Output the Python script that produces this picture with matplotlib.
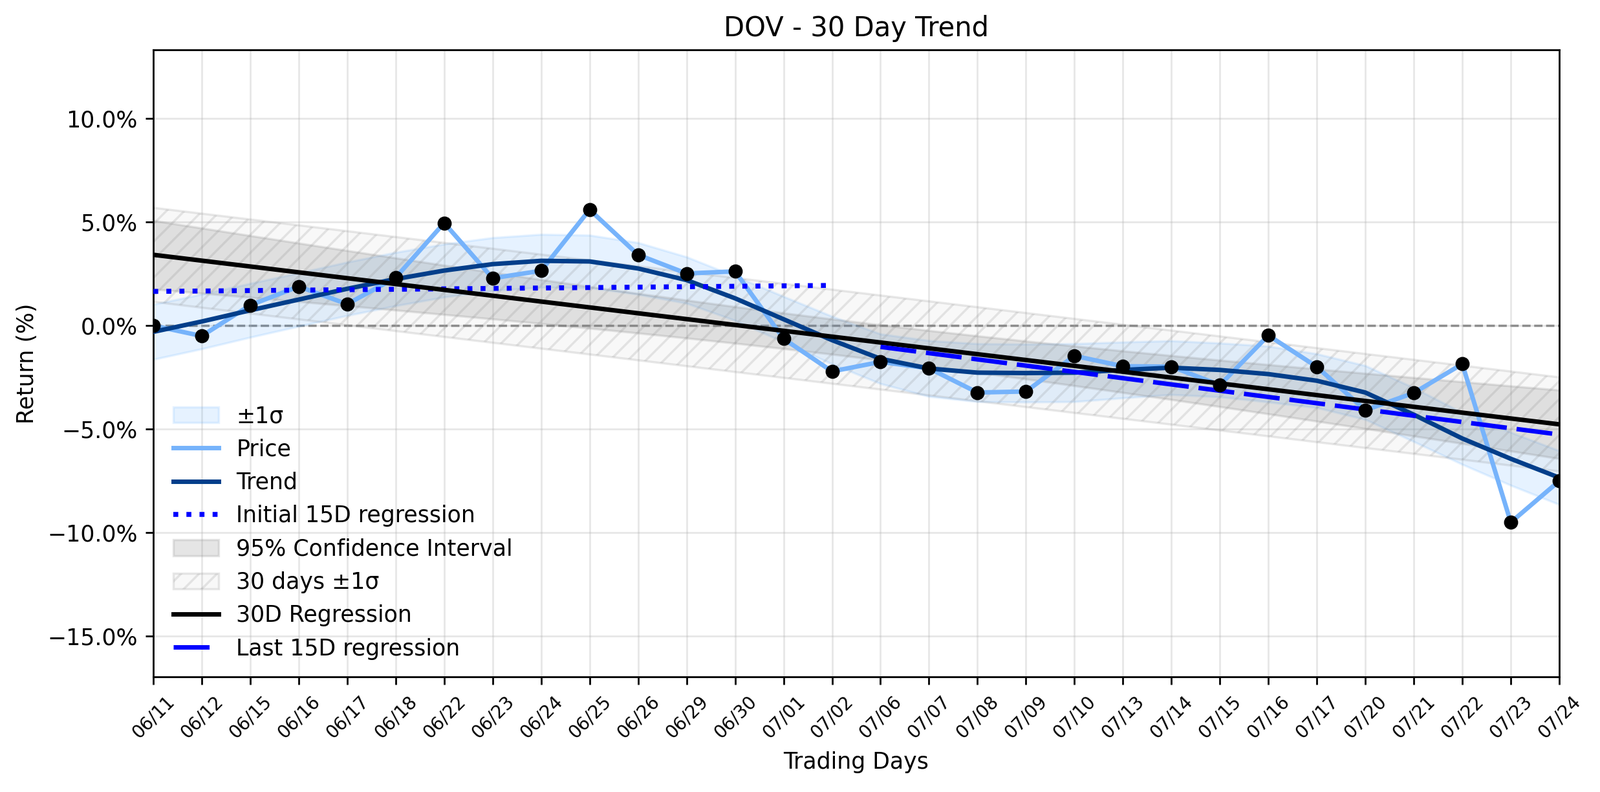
import numpy as np
import matplotlib
matplotlib.use('Agg')
import matplotlib.pyplot as plt
from matplotlib.ticker import PercentFormatter
from matplotlib.patches import Patch
from matplotlib.lines import Line2D

dates = ['06/11', '06/12', '06/15', '06/16', '06/17', '06/18', '06/22', '06/23',
         '06/24', '06/25', '06/26', '06/29', '06/30', '07/01', '07/02', '07/06',
         '07/07', '07/08', '07/09', '07/10', '07/13', '07/14', '07/15', '07/16',
         '07/17', '07/20', '07/21', '07/22', '07/23', '07/24']

price = [0.00, -0.50, 0.99, 1.89, 1.04, 2.32, 4.96, 2.29, 2.65, 5.60,
         3.42, 2.52, 2.62, -0.63, -2.21, -1.75, -2.06, -3.23, -3.18, -1.46,
         -1.96, -1.98, -2.87, -0.47, -1.99, -4.08, -3.25, -1.85, -9.50, -7.50]

trend = [-0.30, 0.20, 0.74, 1.26, 1.78, 2.25, 2.66, 2.97, 3.13, 3.10,
         2.76, 2.20, 1.32, 0.31, -0.70, -1.60, -2.07, -2.27, -2.29, -2.27,
         -2.14, -2.03, -2.14, -2.34, -2.66, -3.23, -4.30, -5.45, -6.43, -7.34]

sigma = [1.33, 1.32, 1.30, 1.29, 1.29, 1.29, 1.28, 1.28, 1.28, 1.27,
         1.25, 1.12, 1.07, 1.10, 1.15, 1.20, 1.35, 1.40, 1.40, 1.40,
         1.35, 1.30, 1.30, 1.35, 1.30, 1.30, 1.30, 1.25, 1.28, 1.30]

T_CRIT = 2.048

x = np.arange(len(dates))
p = np.array(price)
tr = np.array(trend)
sg = np.array(sigma)
n = len(x)

# 30-day regression
coef = np.polyfit(x, p, 1)
reg = np.polyval(coef, x)
resid = p - reg
s = np.std(resid, ddof=2)
xm = x.mean()
sxx = np.sum((x - xm) ** 2)
ci = T_CRIT * s * np.sqrt(1.0 / n + (x - xm) ** 2 / sxx)

# 15-day regressions
c1 = np.polyfit(x[:15], p[:15], 1)
c2 = np.polyfit(x[15:], p[15:], 1)

fig = plt.figure(figsize=(2474 / 250, 1224 / 250), dpi=250)
ax = fig.add_axes([237 / 2474, 1 - 1046 / 1224, (2411 - 237) / 2474, (1046 - 77) / 1224])

ax.grid(True, alpha=0.3)
ax.axhline(0, color='gray', lw=1, ls='--', zorder=1)

hatch_face = (0.5, 0.5, 0.5, 0.05)
hatch_edge = (0.5, 0.5, 0.5, 0.18)

ax.fill_between(x, tr - sg, tr + sg, color='#1f8fff', alpha=0.11, lw=1, zorder=2)
ax.plot(x, p, color='#76b3fb', lw=2, zorder=4)
ax.plot(x, tr, color='#023e8a', lw=2, zorder=5)
ax.scatter(x, p, color='black', s=28, zorder=8)
ax.plot(x[:15], np.polyval(c1, x[:15]), color='blue', lw=2.2, ls=':', zorder=6)
ax.fill_between(x, reg - ci, reg + ci, color='gray', alpha=0.2, lw=1, zorder=2)
ax.fill_between(x, reg - s, reg + s, facecolor=hatch_face,
                edgecolor=hatch_edge, hatch='///', lw=1, zorder=2)
ax.plot(x, reg, color='black', lw=2, zorder=6)
ax.plot(x[15:], np.polyval(c2, x[15:]), color='blue', lw=2, dashes=(8, 2.2), zorder=7)

handles = [
    Patch(facecolor='#1f8fff', alpha=0.11, edgecolor='#1f8fff', lw=1),
    Line2D([], [], color='#76b3fb', lw=2),
    Line2D([], [], color='#023e8a', lw=2),
    Line2D([], [], color='blue', lw=2.2, ls=':'),
    Patch(facecolor='gray', edgecolor='gray', alpha=0.2, lw=1),
    Patch(facecolor=hatch_face, edgecolor=hatch_edge, hatch='///', lw=1),
    Line2D([], [], color='black', lw=2),
    Line2D([], [], color='blue', lw=2, dashes=(8, 2.2)),
]
labels = ['±1σ', 'Price', 'Trend', 'Initial 15D regression', '95% Confidence Interval',
          '30 days ±1σ', '30D Regression', 'Last 15D regression']
ax.legend(handles, labels, loc='lower left', frameon=False, fontsize=10,
          bbox_to_anchor=(0, -0.005))

ax.set_xlim(0, n - 1)
ax.set_ylim(-16.96, 13.32)
ax.set_xticks(x)
ax.set_xticklabels(dates, rotation=45, fontsize=8)
ax.yaxis.set_major_formatter(PercentFormatter(xmax=100, decimals=1))
ax.set_xlabel('Trading Days')
ax.set_ylabel('Return (%)')
ax.set_title('DOV - 30 Day Trend', fontsize=12)

fig.savefig('out.png', dpi=250)
